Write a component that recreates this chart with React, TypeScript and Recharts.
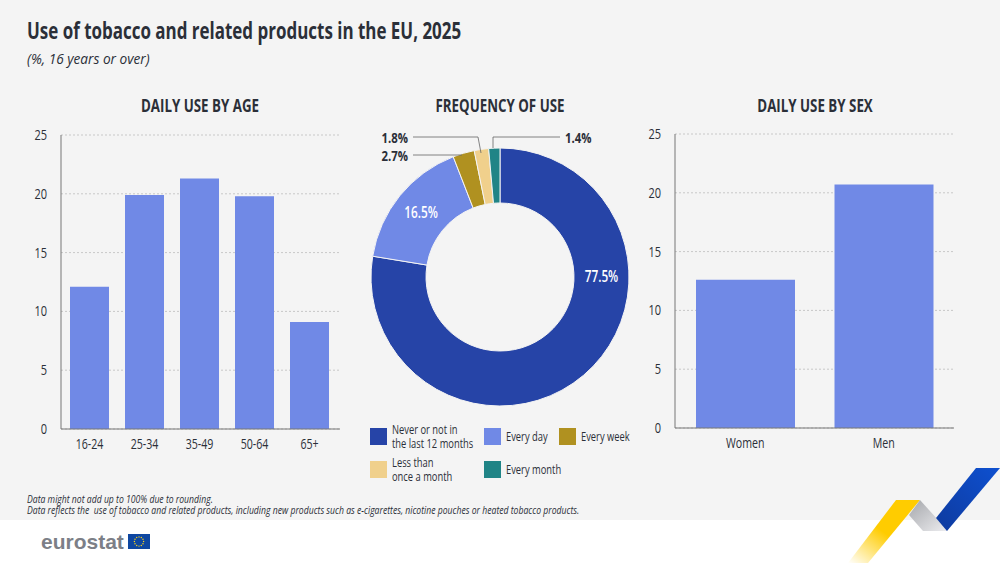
import React from "react";
import { BarChart, Bar, XAxis, YAxis, CartesianGrid, PieChart, Pie, Cell } from "recharts";

const FONT = "'Open Sans', sans-serif";
const ageCategories = ["16-24", "25-34", "35-49", "50-64", "65+"];
const ageValues = [12.1, 19.9, 21.3, 19.8, 9.1];
const sexCategories = ["Women", "Men"];
const sexValues = [12.6, 20.7];
const freqNames = ["Never or not in the last 12 months", "Every day", "Every week", "Less than once a month", "Every month"];
const freqValues = [77.5, 16.5, 2.7, 1.8, 1.4];
const freqColors = ["#2644A7", "#7089E6", "#B09120", "#F0D08C", "#208486"];
const yTicks = [0, 5, 10, 15, 20, 25];
const BG = "#F4F4F4";
const TEXT = "#2B2F38";

const ageData = ageCategories.map((name, i) => ({ name, value: ageValues[i] }));
const sexData = sexCategories.map((name, i) => ({ name, value: sexValues[i] }));
const freqData = freqNames.map((name, i) => ({ name, value: freqValues[i] }));

function T({ x, y, size, k = 0.76, children, weight, italic, anchor, fill = TEXT, family = FONT }: any) {
  return (
    <text transform={`translate(${x},${y}) scale(${k},1)`} fontFamily={family} fontSize={size} fontWeight={weight}
      fontStyle={italic ? "italic" : undefined} textAnchor={anchor} fill={fill} style={{ whiteSpace: "pre" }}>{children}</text>
  );
}

const XTick = ({ x, y, payload }: any) => <T x={x} y={y + 12} size={14} anchor="middle">{payload.value}</T>;
const YTick = ({ x, y, payload }: any) => <T x={x - 6} y={y + 5} size={14.5} anchor="end">{payload.value}</T>;

function Columns({ data, left, top, barSize, padLeft, padRight }: any) {
  return (
    <div style={{ position: "absolute", left, top }}>
      <BarChart width={319} height={339} data={data} barSize={barSize}
        margin={{ top: 10, right: 0, bottom: 0, left: 0 }}>
        <CartesianGrid horizontal vertical={false} stroke="#C8C8C8" strokeDasharray="2 2" />
        <XAxis dataKey="name" height={35} tickLine={false} axisLine={{ stroke: "#777777" }} tick={XTick} interval={0} padding={{ left: padLeft, right: padRight }} />
        <YAxis width={40} domain={[0, 25]} ticks={yTicks} tickLine={false} axisLine={{ stroke: "#777777" }} tick={YTick} />
        <Bar dataKey="value" fill="#7089E6" isAnimationActive={false} />
      </BarChart>
    </div>
  );
}

const RAD = Math.PI / 180;
function pieLabel({ cx, cy, midAngle, innerRadius, outerRadius, index }: any) {
  if (index > 1) return null;
  const r = (innerRadius + outerRadius) / 2;
  const a = index === 0 ? 0 : midAngle;
  return (
    <T x={cx + r * Math.cos(-a * RAD)} y={cy + r * Math.sin(-a * RAD) + 5} anchor="middle" fill="#FFFFFF" weight={600} size={15.5}>
      {freqValues[index].toFixed(1)}%
    </T>
  );
}

const legendRows = [
  { i: 0, x: 370, y: 436, lines: ["Never or not in", "the last 12 months"] },
  { i: 1, x: 484, y: 436, lines: ["Every day"] },
  { i: 2, x: 559, y: 436, lines: ["Every week"] },
  { i: 3, x: 370, y: 469, lines: ["Less than", "once a month"] },
  { i: 4, x: 484, y: 469, lines: ["Every month"] },
];

const stars = Array.from({ length: 12 }, (_, i) => i);

export default function App() {
  return (
    <div style={{ position: "absolute", left: 0, top: 0, width: 1000, height: 563, background: "#FFFFFF", overflow: "hidden" }}>
      <div style={{ position: "absolute", left: 0, top: 0, width: 1000, height: 520, background: BG }} />

      <svg width={1000} height={563} style={{ position: "absolute", left: 0, top: 0 }}>
        <defs>
          <linearGradient id="yel" x1="0" y1="1" x2="0.65" y2="0.25">
            <stop offset="0" stopColor="#FFCC00" stopOpacity={0} />
            <stop offset="0.7" stopColor="#FFCC00" />
          </linearGradient>
          <linearGradient id="gry" x1="0" y1="0" x2="1" y2="1">
            <stop offset="0" stopColor="#A5A7AB" />
            <stop offset="1" stopColor="#EDEDF0" />
          </linearGradient>
          <linearGradient id="blu" x1="0" y1="1" x2="1" y2="0">
            <stop offset="0" stopColor="#0E3A9E" />
            <stop offset="1" stopColor="#0E50D0" />
          </linearGradient>
        </defs>
        <T x={27} y={39} size={23.5} k={0.722} weight={700}>Use of tobacco and related products in the EU, 2025</T>
        <T x={27} y={64} size={14.5} k={0.943} italic>(%, 16 years or over)</T>
        <T x={200} y={112} anchor="middle" size={18} k={0.74} weight={700}>DAILY USE BY AGE</T>
        <T x={500} y={112} anchor="middle" size={18} k={0.74} weight={700}>FREQUENCY OF USE</T>
        <T x={815} y={112} anchor="middle" size={18} k={0.74} weight={700}>DAILY USE BY SEX</T>

        <T x={27} y={503} size={11.5} k={0.752} italic>Data might not add up to 100% due to rounding.</T>
        <T x={27} y={514} size={11.5} k={0.752} italic>Data reflects the  use of tobacco and related products, including new products such as e-cigarettes, nicotine pouches or heated tobacco products.</T>

        <T x={41} y={549} k={1} size={21} weight={700} fill="#7C7F87" family="'Liberation Sans', sans-serif">eurostat</T>
        <rect x={128} y={534} width={22} height={15} fill="#0E47A1" />
        {stars.map((i) => (
          <circle key={i} cx={139 + 4.6 * Math.cos((i * 30) * RAD)} cy={541.5 + 4.6 * Math.sin((i * 30) * RAD)} r={0.7} fill="#FFD617" />
        ))}

        <polygon points="896,500 920,500 868,563 848,563" fill="url(#yel)" />
        <polygon points="920,500 948,531 923,531 909,515" fill="url(#gry)" />
        <polygon points="976,468 1000,468 947,531 936,518" fill="url(#blu)" />
      </svg>

      <Columns data={ageData} left={21} top={125} barSize={39} padLeft={1} padRight={3} />
      <Columns data={sexData} left={635} top={124} barSize={99} padLeft={1} padRight={1} />

      <div style={{ position: "absolute", left: 360, top: 137 }}>
        <PieChart width={280} height={280} margin={{ top: 0, right: 0, bottom: 0, left: 0 }}>
          <Pie data={freqData} dataKey="value" cx={140} cy={140} innerRadius={74} outerRadius={129}
            startAngle={90} endAngle={-270} stroke={BG} strokeWidth={1} isAnimationActive={false}
            label={pieLabel} labelLine={false}>
            {freqData.map((d, i) => <Cell key={d.name} fill={freqColors[i]} />)}
          </Pie>
        </PieChart>
      </div>

      <svg width={1000} height={563} style={{ position: "absolute", left: 0, top: 0, pointerEvents: "none" }}>
        <T x={408} y={143} anchor="end" weight={700} size={15}>{freqValues[3]}%</T>
        <T x={408} y={161} anchor="end" weight={700} size={15}>{freqValues[2]}%</T>
        <T x={565} y={143} weight={700} size={15}>{freqValues[4]}%</T>
        <g fill="none" stroke="#666666" strokeWidth={0.8}>
          <polyline points="413,137 478,137 481,153" />
          <polyline points="413,155 462,155" />
          <polyline points="560,137 493,137 493,148" />
        </g>
        {legendRows.map((r) => (
          <g key={r.i}>
            <rect x={r.x} y={r.y - 8} width={17} height={17} fill={freqColors[r.i]} />
            {r.lines.map((t, k) => (
              <T key={t} x={r.x + 22} y={r.y + 5 + (r.lines.length > 1 ? (k === 0 ? -7 : 7) : 0)} size={13} k={0.72}>{t}</T>
            ))}
          </g>
        ))}
      </svg>
    </div>
  );
}
